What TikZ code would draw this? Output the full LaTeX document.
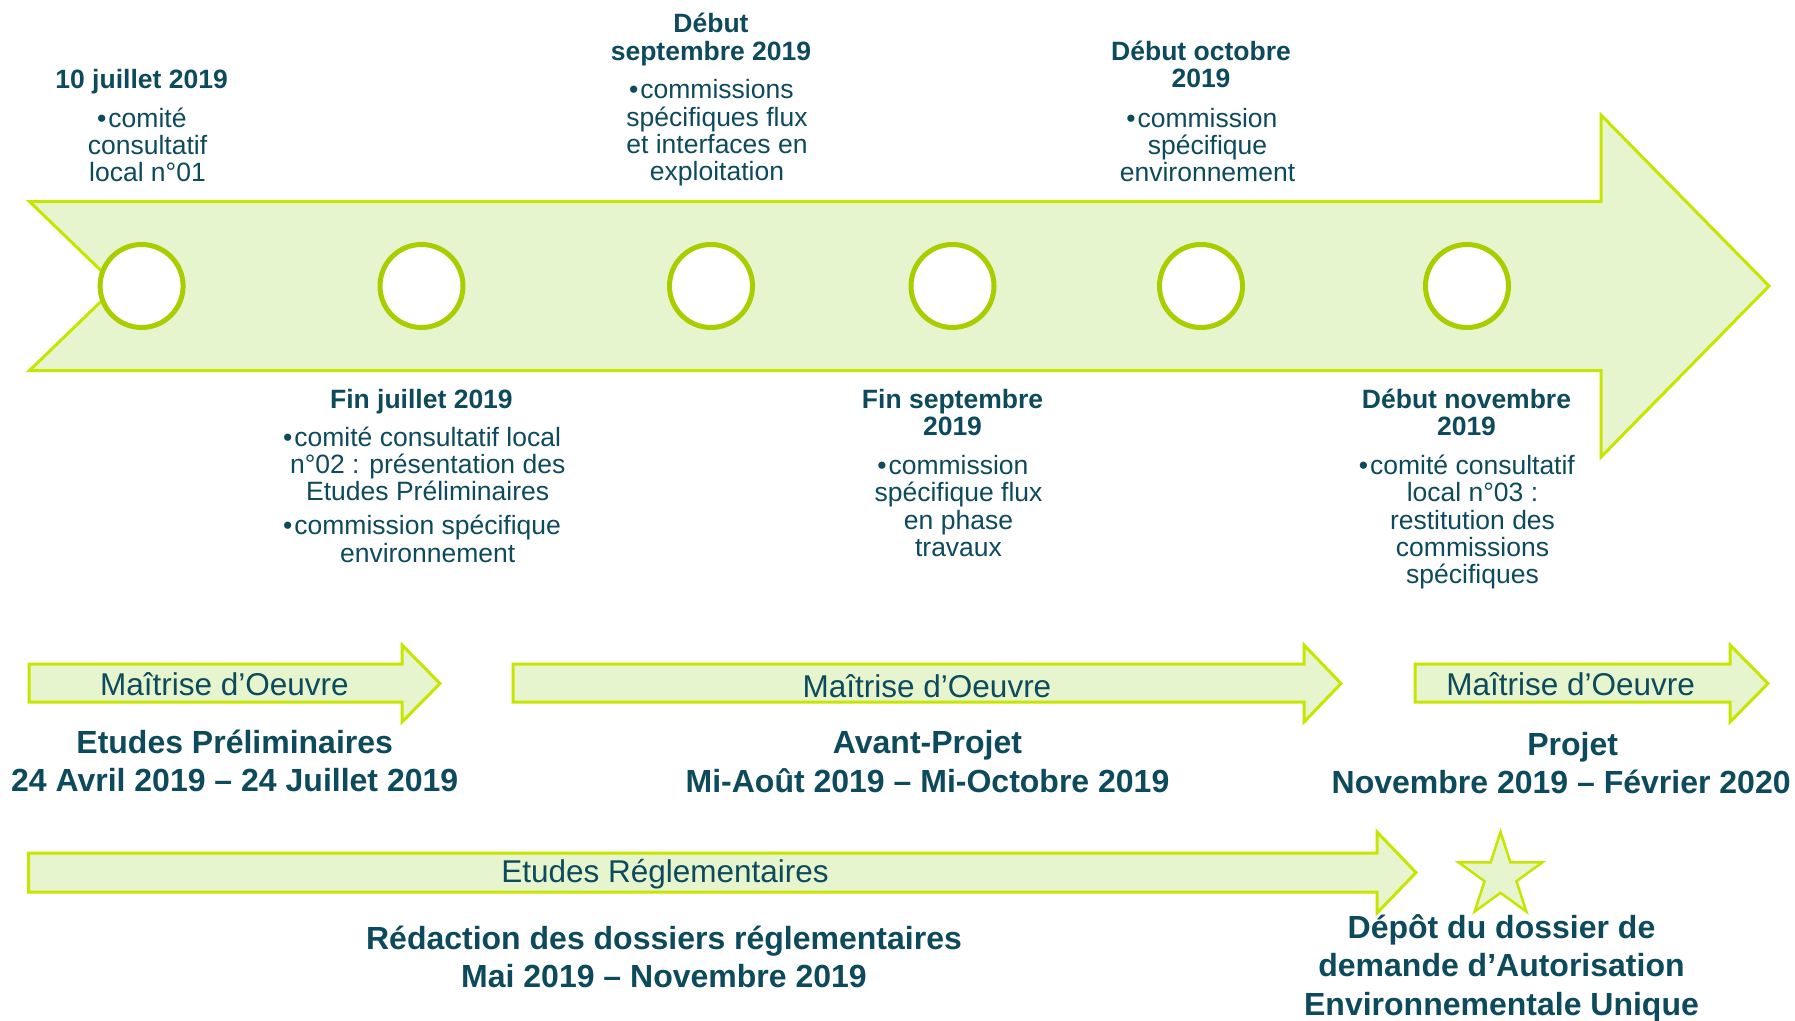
\documentclass[tikz,border=0pt]{standalone}
\usepackage{fontspec}
\setmainfont{Liberation Sans}
\definecolor{txt}{HTML}{0D4A5C}
\definecolor{pale}{HTML}{E6F5CE}
\definecolor{lime}{HTML}{C6E600}
\definecolor{ring}{HTML}{A9CE00}
\newcommand\mlines[1]{\vtop{\lineskiplimit=-100pt\halign{\hfil##\hfil\cr#1\crcr}}}
\newcommand\bul{\llap{•\kern2pt}}
\tikzset{
  band/.style={fill=pale, draw=lime, line width=3pt, line join=miter},
  ringnode/.style={circle, draw=ring, fill=white, line width=5pt, minimum size=83pt, inner sep=0pt},
  datetitle/.style={anchor=base, inner sep=0pt, text=txt, font=\fontsize{26.5}{27.4}\selectfont\bfseries},
  datebody/.style={anchor=base, inner sep=0pt, text=txt, font=\fontsize{26.5}{27.3}\selectfont},
  phase/.style={anchor=base, inner sep=0pt, text=txt, font=\fontsize{32}{38.5}\selectfont\bfseries},
  bandlabel/.style={anchor=base, inner sep=0pt, text=txt, font=\fontsize{31.5}{36}\selectfont},
}
\begin{document}
\begin{tikzpicture}[x=1pt,y=-1pt]
\useasboundingbox[fill=white] (0,0) rectangle (1795,1020);

% main timeline arrow
\draw[band] (29.5,201.5) -- (1601,201.5) -- (1601,115) -- (1769,286) -- (1601,457)
  -- (1601,370.5) -- (29.5,370.5) -- (117,286) -- cycle;

% milestones
\node[ringnode] (c1) at (141.6,286) {};
\node[ringnode] (c2) at (421.5,286) {};
\node[ringnode] (c3) at (711,286) {};
\node[ringnode] (c4) at (952.5,286) {};
\node[ringnode] (c5) at (1201,286) {};
\node[ringnode] (c6) at (1467,286) {};

% upper labels
\node[datetitle] (t1) at (141.6,88) {10 juillet 2019};
\node[datebody] (b1) at (147.5,127) {\mlines{\bul comité\cr consultatif\cr local n°01}};
\node[datetitle] (t2) at (711,32.9) {\mlines{Début\cr septembre 2019}};
\node[datebody] (b2) at (717,98.8) {\mlines{\bul commissions\cr spécifiques flux\cr et interfaces en\cr exploitation}};
\node[datetitle] (t3) at (1201,60.5) {\mlines{Début octobre\cr 2019}};
\node[datebody] (b3) at (1207.5,127.2) {\mlines{\bul commission\cr spécifique\cr environnement}};

% lower labels
\node[datetitle] (t4) at (421.4,408.5) {Fin juillet 2019};
\node[datebody] (b4) at (427.7,446.2) {\mlines{\bul comité consultatif local\cr n°02 : présentation des\cr Etudes Préliminaires\cr\noalign{\vskip6.7pt}\bul commission spécifique\cr environnement}};
\node[datetitle] (t5) at (952.5,408.5) {\mlines{Fin septembre\cr 2019}};
\node[datebody] (b5) at (958.5,474.5) {\mlines{\bul commission\cr spécifique flux\cr en phase\cr travaux}};
\node[datetitle] (t6) at (1466.5,408.5) {\mlines{Début novembre\cr 2019}};
\node[datebody] (b6) at (1472.5,474.5) {\mlines{\bul comité consultatif\cr local n°03 :\cr restitution des\cr commissions\cr spécifiques}};

% phase arrows
\draw[band] (29,664) -- (402,664) -- (402,645) -- (440,683.5) -- (402,722) -- (402,702) -- (29,702) -- cycle;
\draw[band] (513,664) -- (1304,664) -- (1304,645) -- (1341,683.5) -- (1304,722) -- (1304,702) -- (513,702) -- cycle;
\draw[band] (1415,664) -- (1730,664) -- (1730,645) -- (1768,683.5) -- (1730,722) -- (1730,702) -- (1415,702) -- cycle;
\node[bandlabel] (m1) at (224.5,695.5) {Maîtrise d’Oeuvre};
\node[bandlabel] (m2) at (927,697) {Maîtrise d’Oeuvre};
\node[bandlabel] (m3) at (1570.6,695) {Maîtrise d’Oeuvre};

\node[phase] (p1) at (234.7,753.2) {\mlines{Etudes Préliminaires\cr 24 Avril 2019 – 24 Juillet 2019}};
\node[phase] (p2) at (927.5,753.8) {\mlines{Avant-Projet\cr Mi-Août 2019 – Mi-Octobre 2019}};
\node[phase] (p3) at (1561.2,755) {\mlines{\kern23pt Projet\cr Novembre 2019 – Février 2020}};

% regulatory arrow
\draw[band] (28.6,853) -- (1377,853) -- (1377,832) -- (1416,872.5) -- (1377,913) -- (1377,892) -- (28.6,892) -- cycle;
\node[bandlabel] (er) at (665,882.5) {Etudes Réglementaires};
\node[phase] (r1) at (664,949.2) {\mlines{Rédaction des dossiers réglementaires\cr Mai 2019 – Novembre 2019}};

% star
\draw[band, line width=2.5pt] (1500.5,876) +(-90:44) -- +(-126:16.8) -- +(-162:44) -- +(-198:16.8)
  -- +(-234:44) -- +(-270:16.8) -- +(-306:44) -- +(-342:16.8) -- +(-378:44) -- +(-414:16.8) -- cycle;
\node[phase] (dep) at (1501.5,938.2) {\mlines{Dépôt du dossier de\cr demande d’Autorisation\cr Environnementale Unique}};
\end{tikzpicture}
\end{document}
